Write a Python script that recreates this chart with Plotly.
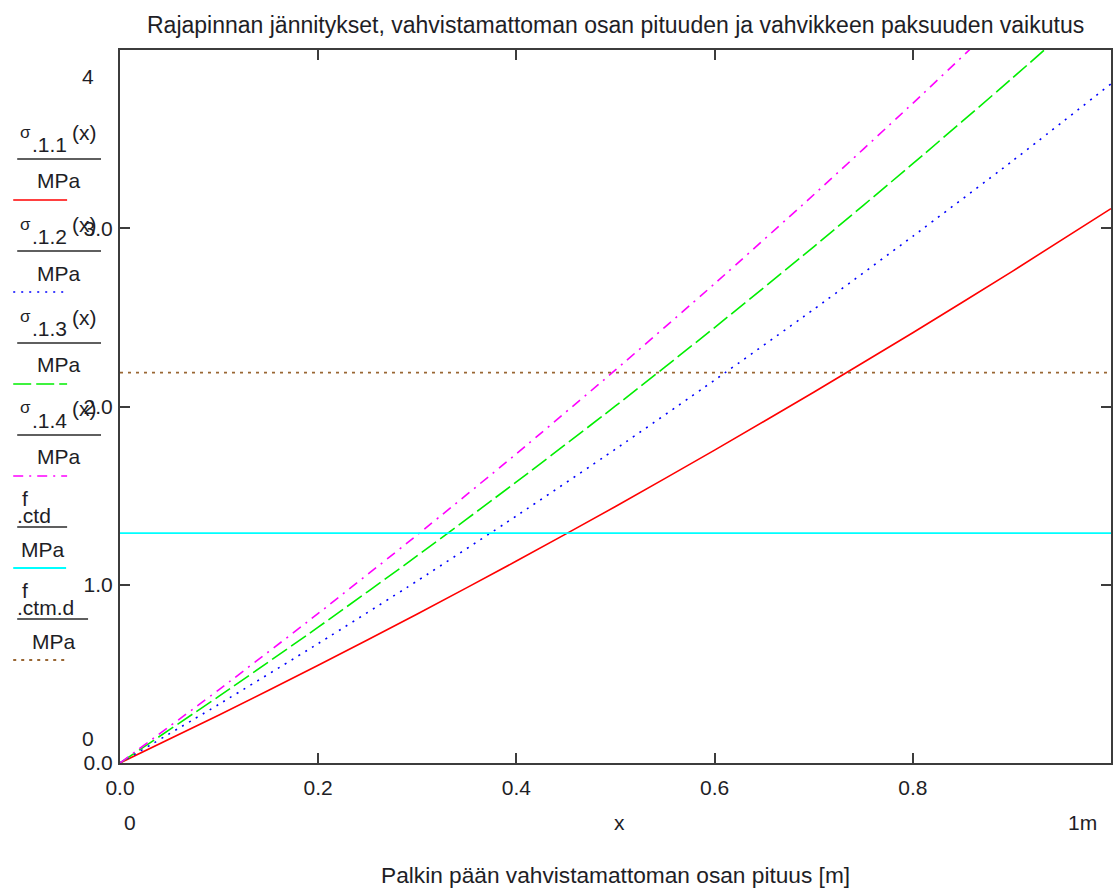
import plotly.graph_objects as go

# Unreinforced length x [m]
x_m = [0.0, 0.1, 0.2, 0.3, 0.4, 0.5, 0.6, 0.7, 0.8, 0.9, 1.0]

# Interface stresses [MPa] for the four strengthening plate thicknesses
sigma_11 = [0.0, 0.269, 0.548, 0.836, 1.133, 1.439, 1.755, 2.080, 2.414, 2.757, 3.110]
sigma_12 = [0.0, 0.330, 0.670, 1.022, 1.386, 1.761, 2.148, 2.545, 2.955, 3.375, 3.810]
sigma_13 = [0.0, 0.375, 0.762, 1.163, 1.577, 2.003, 2.443, 2.896, 3.362, 3.840, 4.332]
sigma_14 = [0.0, 0.412, 0.839, 1.280, 1.735, 2.205, 2.689, 3.188, 3.701, 4.228, 4.770]

# Design tensile strengths [MPa]
f_ctd = 1.29
f_ctm_d = 2.19

x_ticks = [0.0, 0.2, 0.4, 0.6, 0.8]
x_tick_text = ["0.0", "0.2", "0.4", "0.6", "0.8"]
y_ticks = [0.0, 1.0, 2.0, 3.0]
y_tick_text = ["0.0", "1.0", "2.0", "3.0"]

title_text = "Rajapinnan jännitykset, vahvistamattoman osan pituuden ja vahvikkeen paksuuden vaikutus"
x_title = "Palkin pään vahvistamattoman osan pituus [m]"

# Page / plot geometry (pixels)
W, H = 1115, 888
L, R, T, B = 120, 1113, 50, 763
FONT = "Liberation Sans, Arial, sans-serif"
TXT = "#1e1e26"
AXC = "#3c3c3c"
FS = 21


def px(xp):
    return (xp - L) / (R - L)


def py(yp):
    return (B - yp) / (B - T)


series = [
    ("σ", ".1.1", sigma_11, "#ff0000", "solid"),
    ("σ", ".1.2", sigma_12, "#0000ff", "2px,6px"),
    ("σ", ".1.3", sigma_13, "#00ee00", "18px,5px"),
    ("σ", ".1.4", sigma_14, "#ff00ff", "10px,6px,2px,6px"),
]
limits = [
    ("f", ".ctd", f_ctd, "#00ffff", "solid"),
    ("f", ".ctm.d", f_ctm_d, "#996633", "3px,5px"),
]

fig = go.Figure()

for sym, sub, vals, col, dash in series:
    fig.add_trace(go.Scatter(
        x=x_m, y=vals, mode="lines",
        line=dict(color=col, width=1.6, dash=dash, shape="spline", smoothing=0.6),
        name=sym + sub, showlegend=False, hoverinfo="skip"))

for sym, sub, val, col, dash in limits:
    fig.add_trace(go.Scatter(
        x=[x_m[0], x_m[-1]], y=[val, val], mode="lines",
        line=dict(color=col, width=1.8, dash=dash),
        name=sym + sub, showlegend=False, hoverinfo="skip"))

annotations = []
shapes = []


def text(s, xp, yp, size=FS, xanchor="center", yanchor="middle"):
    annotations.append(dict(text=s, x=px(xp), y=py(yp), xref="paper", yref="paper",
                            showarrow=False, xanchor=xanchor, yanchor=yanchor,
                            font=dict(family=FONT, size=size, color=TXT)))


def hline(x0, x1, yp, color, width, dash="solid"):
    shapes.append(dict(type="line", xref="paper", yref="paper",
                       x0=px(x0), x1=px(x1), y0=py(yp), y1=py(yp),
                       line=dict(color=color, width=width, dash=dash)))


# Stacked fraction-style legend on the left
step = 92
for i, (sym, sub, _, col, dash) in enumerate(series):
    o = i * step
    text(sym, 18, 132 + o, size=17, xanchor="left")
    text(sub, 30, 144 + o, size=FS, xanchor="left")
    text("(x)", 70, 133 + o, size=FS, xanchor="left")
    hline(17, 101, 159 + o, "#2a2a2a", 1.5)
    text("MPa", 59, 181 + o, size=FS)
    hline(13, 67, 200 + o, col, 1.6, dash)

for j, (sym, sub, _, col, dash) in enumerate(limits):
    o = (j + 4) * step
    bar_end = 67 if sub == ".ctd" else 88
    text(sym, 20, 130 + o, size=FS, xanchor="left")
    text(sub, 15, 147 + o, size=FS, xanchor="left")
    hline(17, bar_end, 159 + o, "#2a2a2a", 1.5)
    text("MPa", (17 + bar_end) / 2 + 1, 181 + o, size=FS)
    hline(13, 66, 200 + o, col, 1.8, dash)

# Axis limit labels and the x-row beneath the tick labels
text("4", 88, 77)
text("0", 88, 738)
text("0", 130, 822)
text("x", 621, 822)
text("1m", 1084, 822)
text(x_title, 617, 875, size=22.7)
text(title_text, 616, 25, size=23)

fig.update_layout(
    width=W, height=H,
    margin=dict(l=L, r=W - R, t=T, b=H - B, pad=0),
    paper_bgcolor="white", plot_bgcolor="white",
    annotations=annotations, shapes=shapes,
    font=dict(family=FONT, size=FS, color=TXT),
    xaxis=dict(range=[0, 1], tickvals=x_ticks, ticktext=x_tick_text,
               showgrid=False, zeroline=False, showline=True, linecolor=AXC, linewidth=2,
               mirror="ticks", ticks="inside", ticklen=10, tickwidth=1.5, tickcolor=AXC,
               ticklabelstandoff=5,
               tickfont=dict(family=FONT, size=FS, color=TXT)),
    yaxis=dict(range=[0, 4], tickvals=y_ticks, ticktext=y_tick_text,
               showgrid=False, zeroline=False, showline=True, linecolor=AXC, linewidth=2,
               mirror="ticks", ticks="inside", ticklen=10, tickwidth=1.5, tickcolor=AXC,
               ticklabelstandoff=1,
               tickfont=dict(family=FONT, size=FS, color=TXT)),
)

fig.write_html("out.html")
